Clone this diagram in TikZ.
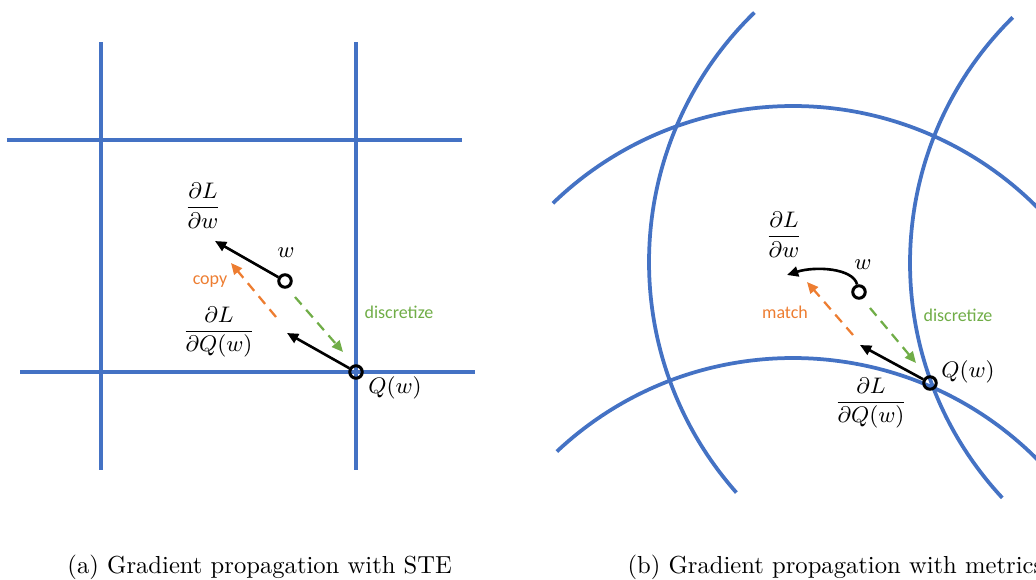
\documentclass[tikz,border=0pt]{standalone}
\usepackage{fontspec}
\newfontfamily\calibri{Carlito}
\usepackage{amsmath}
\usetikzlibrary{arrows.meta}
\definecolor{gridblue}{RGB}{68,114,196}
\definecolor{copyorange}{RGB}{237,125,49}
\definecolor{discgreen}{RGB}{112,173,71}

\begin{document}
\begin{tikzpicture}[x=0.4pt, y=-0.4pt,
    grid/.style={gridblue, line width=1.5pt},
    pt/.style={circle, draw, line width=1.2pt, inner sep=0pt, minimum size=5pt},
    grad/.style={-{Triangle[length=4.5pt,width=4pt]}, line width=1.05pt},
    move/.style={dash pattern=on 4pt off 2.8pt, line width=0.9pt, -{Triangle[length=4.5pt,width=4pt]}},
    lbl/.style={font=\fontsize{8.7}{10}\selectfont, inner sep=0pt},
    word/.style={font=\calibri\fontsize{7.2}{9}\selectfont, inner sep=0pt},
    captext/.style={font=\fontsize{9.85}{12}\selectfont, anchor=west, inner sep=0pt}]
\useasboundingbox (0,0) rectangle (1036,580);

% (a) gradient propagation with STE
\draw[grid] (101,42) -- (101,470);
\draw[grid] (356,42) -- (356,470);
\draw[grid] (7,140) -- (462,140);
\draw[grid] (20,372) -- (475,372);

\node[pt] (qa) at (356,372) {};
\node[pt] (wa) at (285,281) {};
\coordinate (gqa) at (287,333);
\coordinate (gwa) at (215,241);
\coordinate (copyfrom) at (276,317);
\coordinate (copyto) at (231,263);
\coordinate (discfrom) at (295,297);
\coordinate (discto) at (343,352);

\draw[grad] (qa) -- (gqa);
\draw[grad] (wa) -- (gwa);
\draw[move, copyorange] (copyfrom) -- (copyto);
\draw[move, discgreen] (discfrom) -- (discto);

\node[lbl] (dwa) at (203,206) {$\displaystyle\frac{\partial L}{\partial w}$};
\node[lbl] (dqa) at (219,332) {$\displaystyle\frac{\partial L}{\partial Q(w)}$};
\node[lbl] (wla) at (286,253) {$w$};
\node[lbl] (qla) at (395,388) {$Q(w)$};
\node[word, copyorange] (copy) at (210,282) {copy};
\node[word, discgreen] (disca) at (399,312) {discretize};

% (b) gradient propagation with metrics
\draw[grid] (997,262) ++(225.8:348) arc[start angle=225.8, end angle=138.5, radius=348];
\draw[grid] (1255,263) ++(225.4:345) arc[start angle=225.4, end angle=137.1, radius=345];
\draw[grid] (793,451) ++(225.9:345) arc[start angle=225.9, end angle=316, radius=345];
\draw[grid] (793,703) ++(226.8:345) arc[start angle=226.8, end angle=316, radius=345];

\node[pt] (qb) at (930,383) {};
\node[pt] (wb) at (859,292) {};
\coordinate (gqb) at (860,345);
\coordinate (gwb) at (787,275);
\coordinate (matchfrom) at (853,335);
\coordinate (matchto) at (807,282);
\coordinate (discfromb) at (870,308);
\coordinate (disctob) at (916,363);

\draw[grad] (qb) -- (gqb);
\draw[grad] (wb) .. controls (853,268) and (815,266) .. (gwb);
\draw[move, copyorange] (matchfrom) -- (matchto);
\draw[move, discgreen] (discfromb) -- (disctob);

\node[lbl] (dwb) at (784,235) {$\displaystyle\frac{\partial L}{\partial w}$};
\node[lbl] (dqb) at (871,403) {$\displaystyle\frac{\partial L}{\partial Q(w)}$};
\node[lbl] (wlb) at (863,265) {$w$};
\node[lbl] (qlb) at (968,372) {$Q(w)$};
\node[word, copyorange] (match) at (785,312) {match};
\node[word, discgreen] (discb) at (958,315) {discretize};

% captions
\node[captext] (capa) at (67,567) {(a) Gradient propagation with STE};
\node[captext] (capb) at (627,567) {(b) Gradient propagation with metrics};
\end{tikzpicture}
\end{document}
